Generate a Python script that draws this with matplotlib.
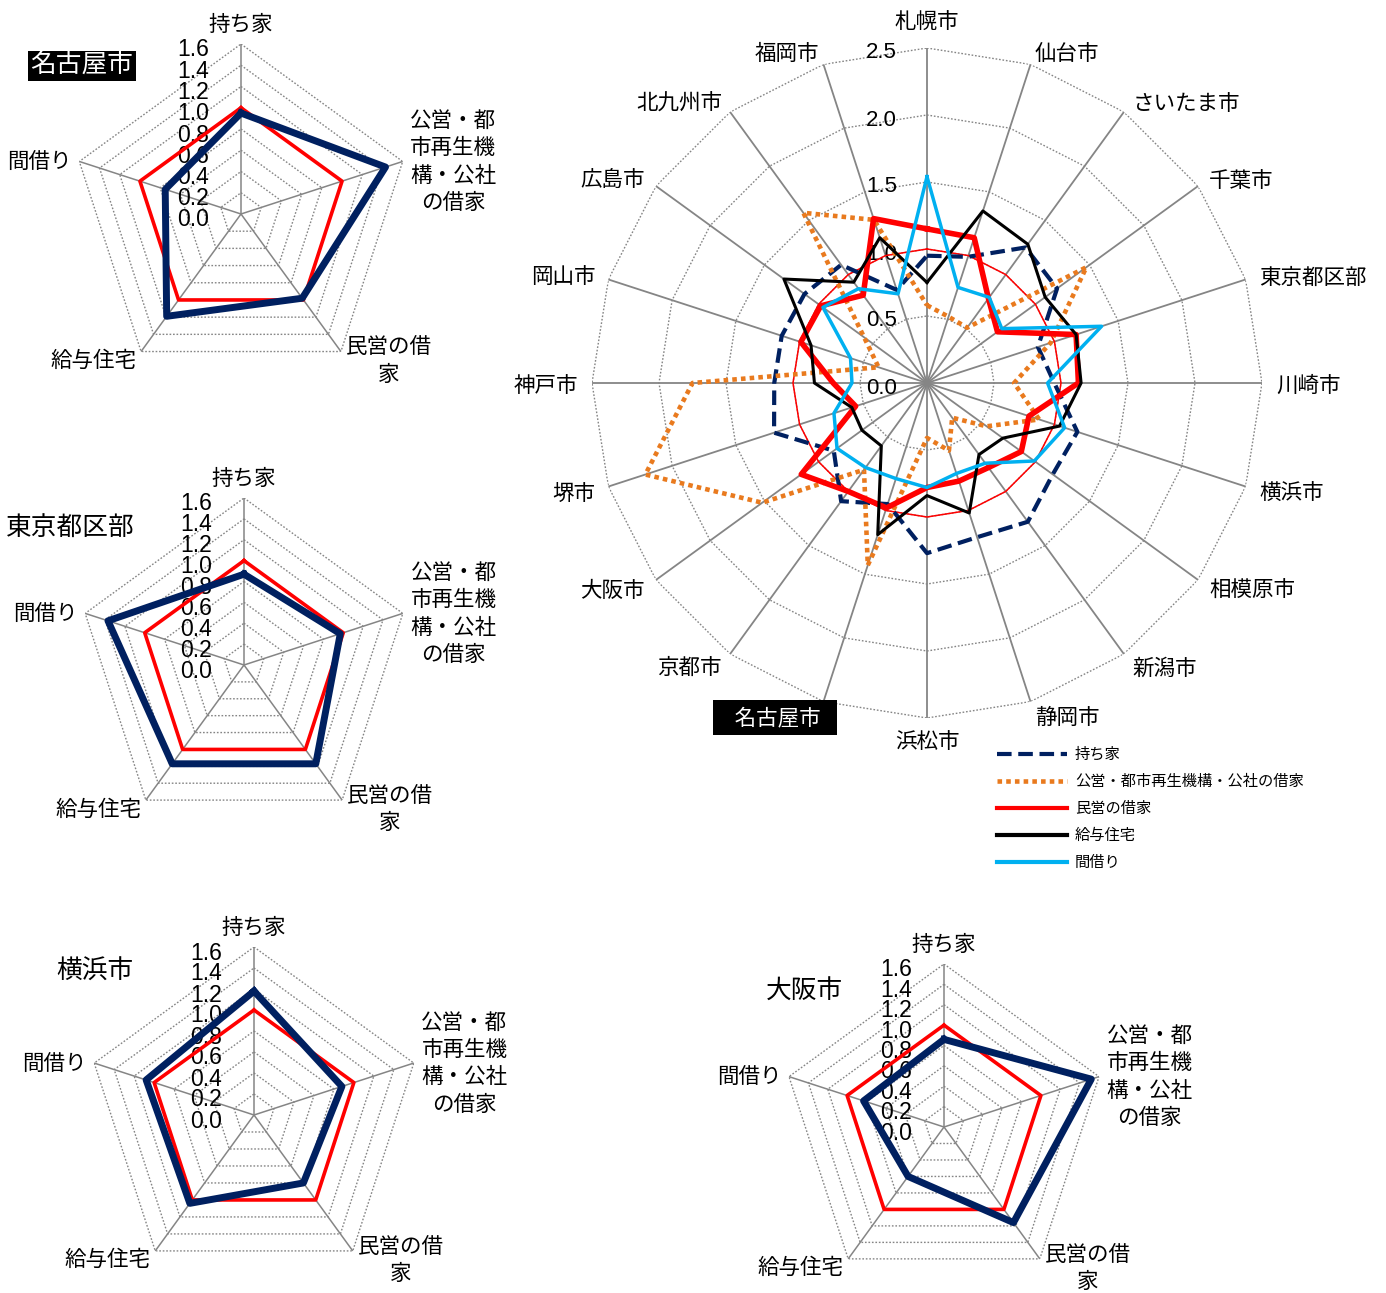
import numpy as np
import matplotlib
matplotlib.use("Agg")
import matplotlib.pyplot as plt
from matplotlib import font_manager
from matplotlib.lines import Line2D

W, H = 1386, 1293
DPI = 100

# --- data (ratio to national average = 1.0) ---
cities = ['札幌市', '仙台市', 'さいたま市', '千葉市', '東京都区部', '川崎市', '横浜市', '相模原市',
          '新潟市', '静岡市', '浜松市', '名古屋市', '京都市', '大阪市', '堺市', '神戸市',
          '岡山市', '広島市', '北九州市', '福岡市']
owned = [0.95, 0.99, 1.25, 1.20, 0.87, 0.95, 1.18, 1.16, 1.28, 1.21,
         1.27, 0.95, 1.09, 0.86, 1.20, 1.14, 1.14, 1.13, 1.09, 0.73]
public = [0.58, 0.52, 0.51, 1.47, 0.97, 0.65, 0.88, 0.55, 0.32, 0.53,
          0.41, 1.43, 0.80, 1.52, 2.21, 1.75, 0.38, 0.58, 1.57, 1.28]
private = [1.15, 1.14, 0.78, 0.65, 1.17, 1.13, 0.80, 0.87, 0.78, 0.77,
           0.78, 0.98, 1.00, 1.16, 0.56, 0.70, 0.99, 0.98, 0.81, 1.29]
company = [0.75, 1.35, 1.28, 1.09, 1.17, 1.15, 1.04, 0.70, 0.66, 1.02,
           0.84, 1.19, 0.58, 0.60, 0.59, 0.84, 0.91, 1.32, 0.93, 1.14]
room = [1.54, 0.75, 0.79, 0.69, 1.37, 0.90, 1.08, 0.99, 0.74, 0.71,
        0.78, 0.75, 0.78, 0.83, 0.73, 0.56, 0.60, 0.96, 0.87, 0.70]
national = 1.0

housing_types = ['持ち家', '公営・都市再生機構・公社の借家', '民営の借家', '給与住宅', '間借り']
small_axis_labels = ['持ち家', '公営・都\n市再生機\n構・公社\nの借家', '民営の借\n家', '給与住宅', '間借り']
big_ticks = [0.0, 0.5, 1.0, 1.5, 2.0, 2.5]
small_ticks = [0.0, 0.2, 0.4, 0.6, 0.8, 1.0, 1.2, 1.4, 1.6]
small_cities = ['名古屋市', '東京都区部', '横浜市', '大阪市']
highlight = '名古屋市'

GRAY = '#858585'
NAVY = '#002060'
ORANGE = '#E97A1E'
RED = '#FF0000'
BLACK = '#000000'
SKY = '#00B0F0'

plt.rcParams['font.family'] = ['Noto Sans CJK JP', 'DejaVu Sans']
_names = {f.name for f in font_manager.fontManager.ttflist}
NUM_FONT = 'Liberation Sans Narrow' if 'Liberation Sans Narrow' in _names else 'Liberation Sans'

fig = plt.figure(figsize=(W / DPI, H / DPI), dpi=DPI)


def radar_axes(cx, cy, R, rmax):
    ax = fig.add_axes([(cx - R) / W, (H - cy - R) / H, 2 * R / W, 2 * R / H], projection='polar')
    ax.set_theta_zero_location('N')
    ax.set_theta_direction(-1)
    ax.grid(False)
    ax.set_xticks([])
    ax.set_yticks([])
    ax.spines['polar'].set_visible(False)
    ax.patch.set_alpha(0)
    ax.set_ylim(0, rmax)
    return ax


def draw_frame(ax, n, ticks, spoke_lw=1.1):
    theta = np.linspace(0, 2 * np.pi, n, endpoint=False)
    closed = np.append(theta, theta[0])
    for lv in ticks[1:]:
        ax.plot(closed, [lv] * (n + 1), color=GRAY, lw=1.0, ls=(0, (1.2, 1.3)), zorder=1)
    for t in theta:
        ax.plot([t, t], [0, ticks[-1]], color=GRAY, lw=spoke_lw, zorder=1)
    return theta


def tick_labels(ax, ticks, dx, dy, size):
    for v in ticks:
        ax.annotate(f'{v:.1f}', xy=(0, v), xytext=(dx, dy), textcoords='offset pixels',
                    ha='right', va='center', fontsize=size, family=NUM_FONT, zorder=2)


def axis_labels(ax, labels, rmax, gap, size, boxed=None):
    n = len(labels)
    for i, lab in enumerate(labels):
        t = 2 * np.pi * i / n
        s, c = np.sin(t), np.cos(t)
        ha = 'left' if s > 0.1 else ('right' if s < -0.1 else 'center')
        va = 'bottom' if c > 0.99 else ('top' if c < -0.99 else 'center')
        kw = {}
        txt = lab
        ox, oy = gap * s, gap * c
        if va == 'center':
            oy -= 3
        if lab == boxed:
            txt = '   ' + lab + '  '
            kw = dict(color='white', bbox=dict(boxstyle='square,pad=0.3', fc='black', ec='none'))
            ox += 11
        ax.annotate(txt, xy=(t, rmax), xytext=(ox, oy), textcoords='offset pixels',
                    ha=ha, va=va, multialignment='center', fontsize=size,
                    linespacing=1.32, annotation_clip=False, **kw)


def closed(vals):
    return list(vals) + [vals[0]]


# --- big 20-city radar ---
ax = radar_axes(927, 383, 335, big_ticks[-1])
theta = draw_frame(ax, len(cities), big_ticks, spoke_lw=1.3)
th = closed(theta)
ax.plot(th, closed([national] * len(cities)), color=RED, lw=1.1, zorder=3)
ax.plot(th, closed(owned), color=NAVY, lw=3.0, ls=(0, (3.5, 1.6)), zorder=4)
ax.plot(th, closed(public), color=ORANGE, lw=3.3, ls=(0, (1, 0.9)), zorder=5)
ax.plot(th, closed(private), color=RED, lw=4.0, zorder=6)
ax.plot(th, closed(company), color=BLACK, lw=2.2, zorder=7)
ax.plot(th, closed(room), color=SKY, lw=2.5, zorder=8)
tick_labels(ax, big_ticks, -30, -5, 16)
axis_labels(ax, cities, big_ticks[-1], 14, 15.5, boxed=highlight)
ax.set_ylim(0, big_ticks[-1])

legend_handles = [
    Line2D([], [], color=NAVY, lw=3.0, ls=(0, (3.5, 1.6))),
    Line2D([], [], color=ORANGE, lw=3.3, ls=(0, (1, 0.9))),
    Line2D([], [], color=RED, lw=3.0),
    Line2D([], [], color=BLACK, lw=3.0),
    Line2D([], [], color=SKY, lw=3.0),
]
fig.legend(legend_handles, housing_types, loc='upper left',
           bbox_to_anchor=(997 / W, 1 - 746 / H), frameon=False, fontsize=11,
           handlelength=4.6, handletextpad=0.5, labelspacing=0.66,
           borderaxespad=0, borderpad=0)

# --- small 5-type radars ---
small_layout = {
    '名古屋市': (241, 214, 170, (82, 66)),
    '東京都区部': (244, 665, 167, (70, 529)),
    '横浜市': (254, 1115, 168, (95, 972)),
    '大阪市': (944, 1127, 163, (804, 992)),
}
for city in small_cities:
    cx, cy, R, (tx, ty) = small_layout[city]
    i = cities.index(city)
    vals = [owned[i], public[i], private[i], company[i], room[i]]
    sax = radar_axes(cx, cy, R, small_ticks[-1])
    sth = closed(draw_frame(sax, len(housing_types), small_ticks))
    sax.plot(sth, closed([national] * len(vals)), color=RED, lw=2.6, zorder=4)
    sax.plot(sth, closed(vals), color=NAVY, lw=5.0, zorder=5)
    tick_labels(sax, small_ticks, -32, -6, 16.5)
    axis_labels(sax, small_axis_labels, small_ticks[-1], 8, 15.5)
    sax.set_ylim(0, small_ticks[-1])
    if city == highlight:
        fig.text(tx / W, 1 - ty / H, city, ha='center', va='center', fontsize=18.5, color='white',
                 bbox=dict(boxstyle='square,pad=0.08', fc='black', ec='none'))
    else:
        fig.text(tx / W, 1 - ty / H, city, ha='center', va='center', fontsize=18.5)

fig.savefig('out.png', dpi=DPI, facecolor='white')
